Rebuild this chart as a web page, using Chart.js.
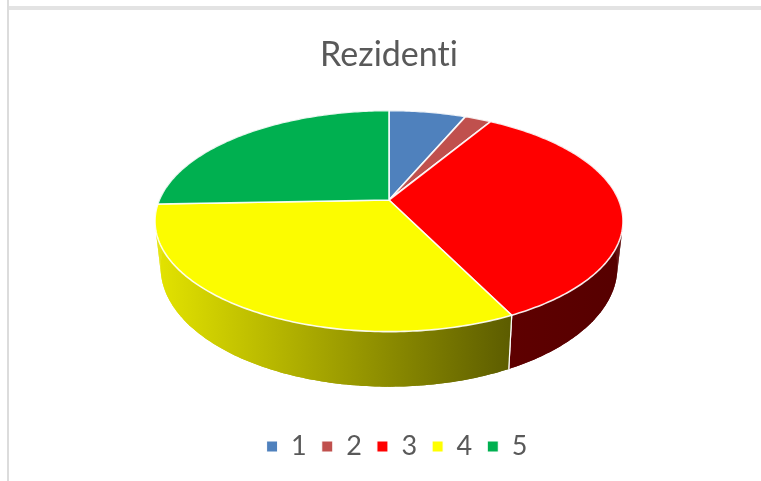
<!DOCTYPE html>
<html><head><meta charset="utf-8">
<script src="https://cdn.jsdelivr.net/npm/chart.js@4"></script>
<style>html,body{margin:0;padding:0;background:#fff}canvas{display:block}</style>
</head><body><canvas id="c" width="761" height="481"></canvas>
<script>
const categories = ['1','2','3','4','5'];
const values = [6.4, 2.2, 34.1, 31.7, 25.6];
const sliceColors = ['#4f81bd','#c0504d','#ff0000','#fcfc00','#00b050'];
const legendColors = ['#4f81bd','#c0504d','#ff0000','#ffff00','#00b050'];
const wallLeft = ['#2f4d71','#73302e','#600000','#e4e400','#006a30'];
const wallRight = ['#2f4d71','#73302e','#560000','#5c5c00','#006a30'];
const titleText = 'Rezidenti';

// projection of the pie's unit circle onto the page (tilted, perspective)
const view = {cy:200, rx:229.7, ry:106.5, k:0.191, depth:44.5, depthGrow:1.08, wallShrink:0.976};

function top3d(cx,a){
  const x=Math.cos(a), y=Math.sin(a), w=1-view.k*y;
  return [cx+view.rx*x/w, view.cy+view.ry*y/w];
}
function low3d(cx,a){
  const p=top3d(cx,a);
  return [cx+view.wallShrink*(p[0]-cx), view.cy+view.depth+view.depthGrow*(p[1]-view.cy)];
}
function samples(s,e){
  const n=Math.max(2,Math.ceil((e-s)/0.015)), out=[];
  for(let i=0;i<=n;i++) out.push(s+(e-s)*i/n);
  return out;
}
const pie3d = {
  id:'pie3d',
  afterLayout(chart){ chart.legend.left += 16; },
  beforeDraw(chart){
    const c=chart.ctx;
    c.letterSpacing='0.01px';
    c.save();
    c.fillStyle='#e3e3e3'; c.fillRect(7,6,754,4);
    c.fillStyle='#dcdcdc'; c.fillRect(7,0,2,481);
    c.restore();
  },
  beforeDatasetDraw(chart){
    const c=chart.ctx, arcs=chart.getDatasetMeta(0).data;
    c.save();
    const order=arcs.map((a,i)=>({a,i})).sort((p,q)=>
      Math.sin((p.a.startAngle+p.a.endAngle)/2)-Math.sin((q.a.startAngle+q.a.endAngle)/2));
    for(const {a,i} of order){
      const cx=a.x, ang=samples(a.startAngle,a.endAngle);
      const up=ang.map(t=>top3d(cx,t)), lo=ang.map(t=>low3d(cx,t));
      const xs=up.concat(lo).map(p=>p[0]);
      const g=c.createLinearGradient(Math.min(...xs),0,Math.max(...xs),0);
      g.addColorStop(0,wallLeft[i]); g.addColorStop(1,wallRight[i]);
      c.fillStyle=g;
      for(let j=0;j<ang.length-1;j++){
        c.beginPath();
        c.moveTo(up[j][0],up[j][1]); c.lineTo(up[j+1][0],up[j+1][1]);
        c.lineTo(lo[j+1][0],lo[j+1][1]); c.lineTo(lo[j][0],lo[j][1]);
        c.closePath(); c.fill();
      }
      c.beginPath();
      up.forEach((p,j)=>j?c.lineTo(p[0],p[1]):c.moveTo(p[0],p[1]));
      for(let j=lo.length-1;j>=0;j--) c.lineTo(lo[j][0],lo[j][1]);
      c.closePath(); c.fill();
      // white seam where a front slice meets the next wall
      [0,ang.length-1].forEach(j=>{
        if(Math.sin(ang[j])>0.5){
          c.strokeStyle='#fff'; c.lineWidth=1.2; c.beginPath();
          c.moveTo(up[j][0],up[j][1]); c.lineTo(lo[j][0],lo[j][1]); c.stroke();
        }
      });
    }
    arcs.forEach((a,i)=>{
      const cx=a.x, ang=samples(a.startAngle,a.endAngle);
      c.beginPath(); c.moveTo(cx,view.cy);
      ang.forEach(t=>{const p=top3d(cx,t); c.lineTo(p[0],p[1]);});
      c.closePath();
      c.fillStyle=sliceColors[i]; c.fill();
      c.strokeStyle='rgba(255,255,255,0.9)'; c.lineWidth=1.6; c.lineJoin='round'; c.stroke();
    });
    c.restore();
    return false;
  }
};
new Chart(document.getElementById('c'),{
  type:'pie',
  data:{labels:categories,datasets:[{data:values,backgroundColor:legendColors,borderColor:'#fff',borderWidth:1}]},
  plugins:[pie3d],
  options:{
    responsive:false,animation:false,devicePixelRatio:1,
    layout:{padding:{left:17,right:0,top:0,bottom:11}},
    plugins:{
      tooltip:{enabled:false},
      title:{display:true,text:titleText,color:'#595959',font:{family:'Lato',size:34,weight:'normal'},padding:{top:35,bottom:10}},
      legend:{position:'bottom',labels:{color:'#595959',font:{family:'Lato',size:27},boxWidth:11,boxHeight:11,padding:15}}
    }
  }
});
</script></body></html>
